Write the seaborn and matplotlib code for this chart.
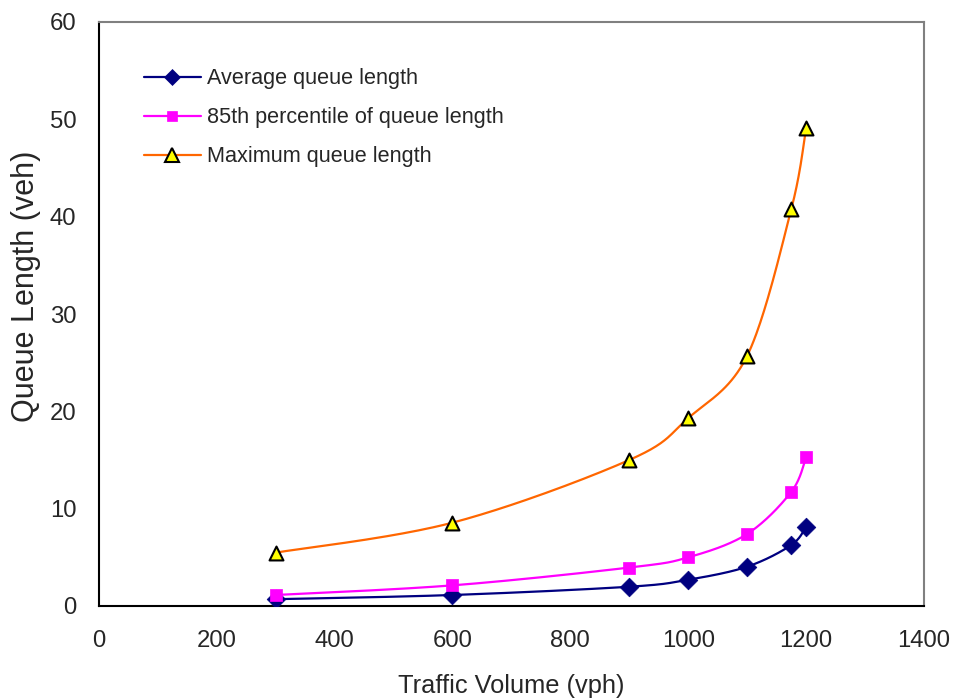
import numpy as np
import matplotlib
matplotlib.use("Agg")
import matplotlib.pyplot as plt
from matplotlib.lines import Line2D
import seaborn as sns

# Traffic volume (vph) and queue lengths (veh)
volume = [300, 600, 900, 1000, 1100, 1175, 1200]
avg_queue = [0.7, 1.13, 1.98, 2.7, 4.04, 6.27, 8.15]
p85_queue = [1.13, 2.12, 3.95, 5.0, 7.4, 11.74, 15.28]
max_queue = [5.48, 8.56, 15.0, 19.3, 25.7, 40.8, 49.1]

labels = ["Average queue length", "85th percentile of queue length", "Maximum queue length"]
x_ticks = [0, 200, 400, 600, 800, 1000, 1200, 1400]
y_ticks = [0, 10, 20, 30, 40, 50, 60]

sns.set_theme(style="white")
plt.rcParams["font.family"] = ["Liberation Sans", "DejaVu Sans"]


def smooth(xs, ys, n=40):
    """Catmull-Rom style Bezier smoothing through every point."""
    p = np.column_stack([xs, ys]).astype(float)
    ext = np.vstack([p[0], p, p[-1]])
    out = []
    t = np.linspace(0, 1, n)[:, None]
    for i in range(len(p) - 1):
        p0, p1, p2, p3 = ext[i], ext[i + 1], ext[i + 2], ext[i + 3]
        c1 = p1 + (p2 - p0) / 6.0
        c2 = p2 - (p3 - p1) / 6.0
        seg = ((1 - t) ** 3) * p1 + 3 * ((1 - t) ** 2) * t * c1 + 3 * (1 - t) * t ** 2 * c2 + t ** 3 * p2
        out.append(seg if i == 0 else seg[1:])
    s = np.vstack(out)
    return s[:, 0], s[:, 1]


fig = plt.figure(figsize=(9.56, 7.0), dpi=100)
ax = fig.add_axes([98.7 / 956, 1 - 606 / 700, (924 - 98.7) / 956, (606 - 22) / 700])

series = [
    dict(y=avg_queue, color="#000080", marker="D", ms=9.5, lms=8.0, mfc="#000080", mec="#000080", mew=0.5),
    dict(y=p85_queue, color="#FF00FF", marker="s", ms=8.3, lms=7.5, mfc="#FF00FF", mec="#FF00FF", mew=0.5),
    dict(y=max_queue, color="#FF6600", marker="^", ms=10.0, lms=9.5, mfc="#FFFF00", mec="#000000", mew=1.5),
]

handles = []
for k, s in enumerate(series):
    sx, sy = smooth(volume, s["y"])
    sns.lineplot(x=sx, y=sy, sort=False, estimator=None, color=s["color"], lw=1.6, ax=ax, zorder=3 + 2 * k)
    sns.scatterplot(x=volume, y=s["y"], marker=s["marker"], s=s["ms"] ** 2, color=s["mfc"],
                    edgecolor=s["mec"], linewidth=s["mew"], ax=ax, zorder=4 + 2 * k)
    handles.append(Line2D([], [], color=s["color"], lw=1.6, marker=s["marker"], markersize=s["lms"],
                          markerfacecolor=s["mfc"], markeredgecolor=s["mec"], markeredgewidth=s["mew"]))

ax.set_xlim(0, 1400)
ax.set_ylim(0, 60)
ax.set_xticks(x_ticks)
ax.set_yticks(y_ticks)
ax.tick_params(axis="both", labelsize=17.2, direction="out", length=6, width=1.2, color="#000000")
ax.tick_params(axis="y", pad=10)
ax.tick_params(axis="x", pad=11)
ax.set_xlabel("Traffic Volume (vph)", fontsize=18.3)
ax.xaxis.set_label_coords(0.5, -0.117)
ax.set_ylabel("Queue Length (veh)", fontsize=22)
ax.yaxis.set_label_coords(-0.07, 0.548)

for side in ["left", "bottom"]:
    ax.spines[side].set_color("#000000")
    ax.spines[side].set_linewidth(1.5)
for side in ["top", "right"]:
    ax.spines[side].set_color("#808080")
    ax.spines[side].set_linewidth(1.5)
ax.grid(False)

ax.legend(handles, labels, loc="upper left", bbox_to_anchor=(0.0467, 0.9322), frameon=False,
          fontsize=15.6, handlelength=2.63, handletextpad=0.28, labelspacing=0.84, borderaxespad=0,
          borderpad=0.3)

fig.savefig("out.png", dpi=100)
